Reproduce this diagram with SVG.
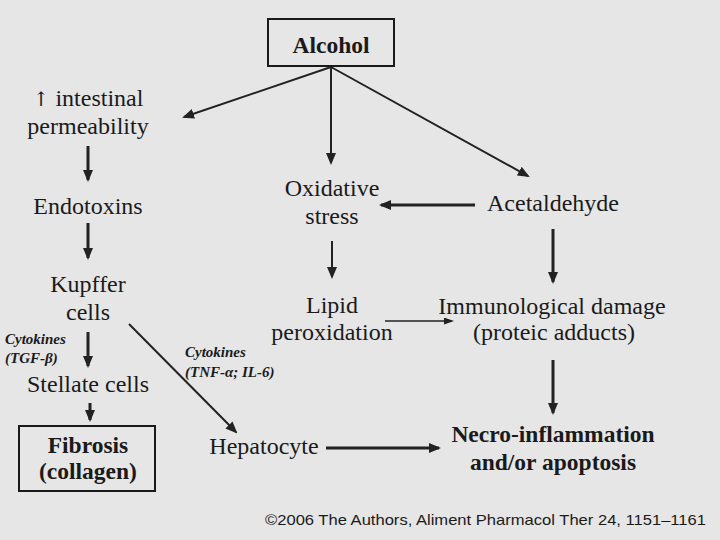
<svg xmlns="http://www.w3.org/2000/svg" width="720" height="540" viewBox="0 0 720 540">
<style>
  .t{font-family:"Liberation Serif",Tinos,"Times New Roman","DejaVu Serif",serif;font-size:24px;fill:#1a1a1a;text-anchor:middle}
  .b{font-weight:bold;font-size:23.5px}
  .c{font-family:"Liberation Serif",Tinos,"Times New Roman","DejaVu Serif",serif;font-size:15px;font-weight:bold;font-style:italic;fill:#1a1a1a}
  .box{fill:none;stroke:#1a1a1a;stroke-width:2}
  .ln{fill:none;stroke:#222;stroke-width:2}
  .th{stroke-width:3}
  .tn{stroke-width:1.5}
  .ar{font-family:"DejaVu Serif","DejaVu Sans",serif;font-size:20px}
  .cp{font-family:"Liberation Sans",Arial,sans-serif;font-size:15px;fill:#1a1a1a;text-anchor:end}
</style>
<defs>
  <marker id="ah" markerUnits="userSpaceOnUse" viewBox="0 0 12 10" refX="10" refY="5" markerWidth="12" markerHeight="10" orient="auto">
    <path d="M0,0 L12,5 L0,10 z" fill="#222"/>
  </marker>
  <marker id="ahs" markerUnits="userSpaceOnUse" viewBox="0 0 10 7" refX="8" refY="3.5" markerWidth="10" markerHeight="7" orient="auto">
    <path d="M0,0 L10,3.5 L0,7 z" fill="#222"/>
  </marker>
</defs>
<rect width="720" height="540" fill="#e6e6e6"/>

<g id="connectors">
  <path class="ln" d="M331,67 L184,117" marker-end="url(#ah)"/>
  <path class="ln" d="M331,67 L331,163" marker-end="url(#ah)"/>
  <path class="ln" d="M331,67 L528,176" marker-end="url(#ah)"/>
  <path class="ln th" d="M88,146 L88,180" marker-end="url(#ah)"/>
  <path class="ln th" d="M88,223 L88,258" marker-end="url(#ah)"/>
  <path class="ln th" d="M88,332 L88,366" marker-end="url(#ah)"/>
  <path class="ln th" d="M90,403 L90,420" marker-end="url(#ah)"/>
  <path class="ln" d="M332,241 L332,277" marker-end="url(#ah)"/>
  <path class="ln th" d="M475,205 L381,205" marker-end="url(#ah)"/>
  <path class="ln th" d="M553,229 L553,282" marker-end="url(#ah)"/>
  <path class="ln tn" d="M385,321 L452,321" marker-end="url(#ahs)"/>
  <path class="ln th" d="M553,360 L553,413" marker-end="url(#ah)"/>
  <path class="ln th" d="M326,448 L439,448" marker-end="url(#ah)"/>
  <path class="ln" d="M129,324 L236,432" marker-end="url(#ah)"/>
</g>

<g id="alcohol">
  <rect class="box" x="268" y="19" width="126" height="47"/>
  <text class="t b" x="331" y="53">Alcohol</text>
</g>
<g id="permeability">
  <text class="t" x="88" y="106"><tspan class="ar">↑</tspan> intestinal</text>
  <text class="t" x="88" y="134">permeability</text>
</g>
<g id="endotoxins"><text class="t" x="88" y="214">Endotoxins</text></g>
<g id="kupffer">
  <text class="t" x="88" y="292">Kupffer</text>
  <text class="t" x="88" y="320">cells</text>
</g>
<g id="cytokines-tgf">
  <text class="c" x="5" y="344">Cytokines</text>
  <text class="c" x="5" y="363">(TGF-β)</text>
</g>
<g id="stellate"><text class="t" x="88" y="392">Stellate cells</text></g>
<g id="fibrosis">
  <rect class="box" x="19" y="426" width="136" height="65"/>
  <text class="t b" x="88" y="453">Fibrosis</text>
  <text class="t b" x="88" y="479">(collagen)</text>
</g>
<g id="oxidative">
  <text class="t" x="332" y="196">Oxidative</text>
  <text class="t" x="332" y="224">stress</text>
</g>
<g id="acetaldehyde"><text class="t" x="553" y="211">Acetaldehyde</text></g>
<g id="lipid">
  <text class="t" x="332" y="313">Lipid</text>
  <text class="t" x="332" y="340">peroxidation</text>
</g>
<g id="immunological">
  <text class="t" x="552" y="314">Immunological damage</text>
  <text class="t" x="554" y="340">(proteic adducts)</text>
</g>
<g id="cytokines-tnf">
  <text class="c" x="185" y="357">Cytokines</text>
  <text class="c" x="185" y="377">(TNF-α; IL-6)</text>
</g>
<g id="hepatocyte"><text class="t" x="264" y="454">Hepatocyte</text></g>
<g id="necro">
  <text class="t b" x="553" y="442">Necro-inflammation</text>
  <text class="t b" x="553" y="470">and/or apoptosis</text>
</g>
<text class="cp" x="706" y="525" textLength="441" lengthAdjust="spacingAndGlyphs">©2006 The Authors, Aliment Pharmacol Ther 24, 1151–1161</text>
</svg>
